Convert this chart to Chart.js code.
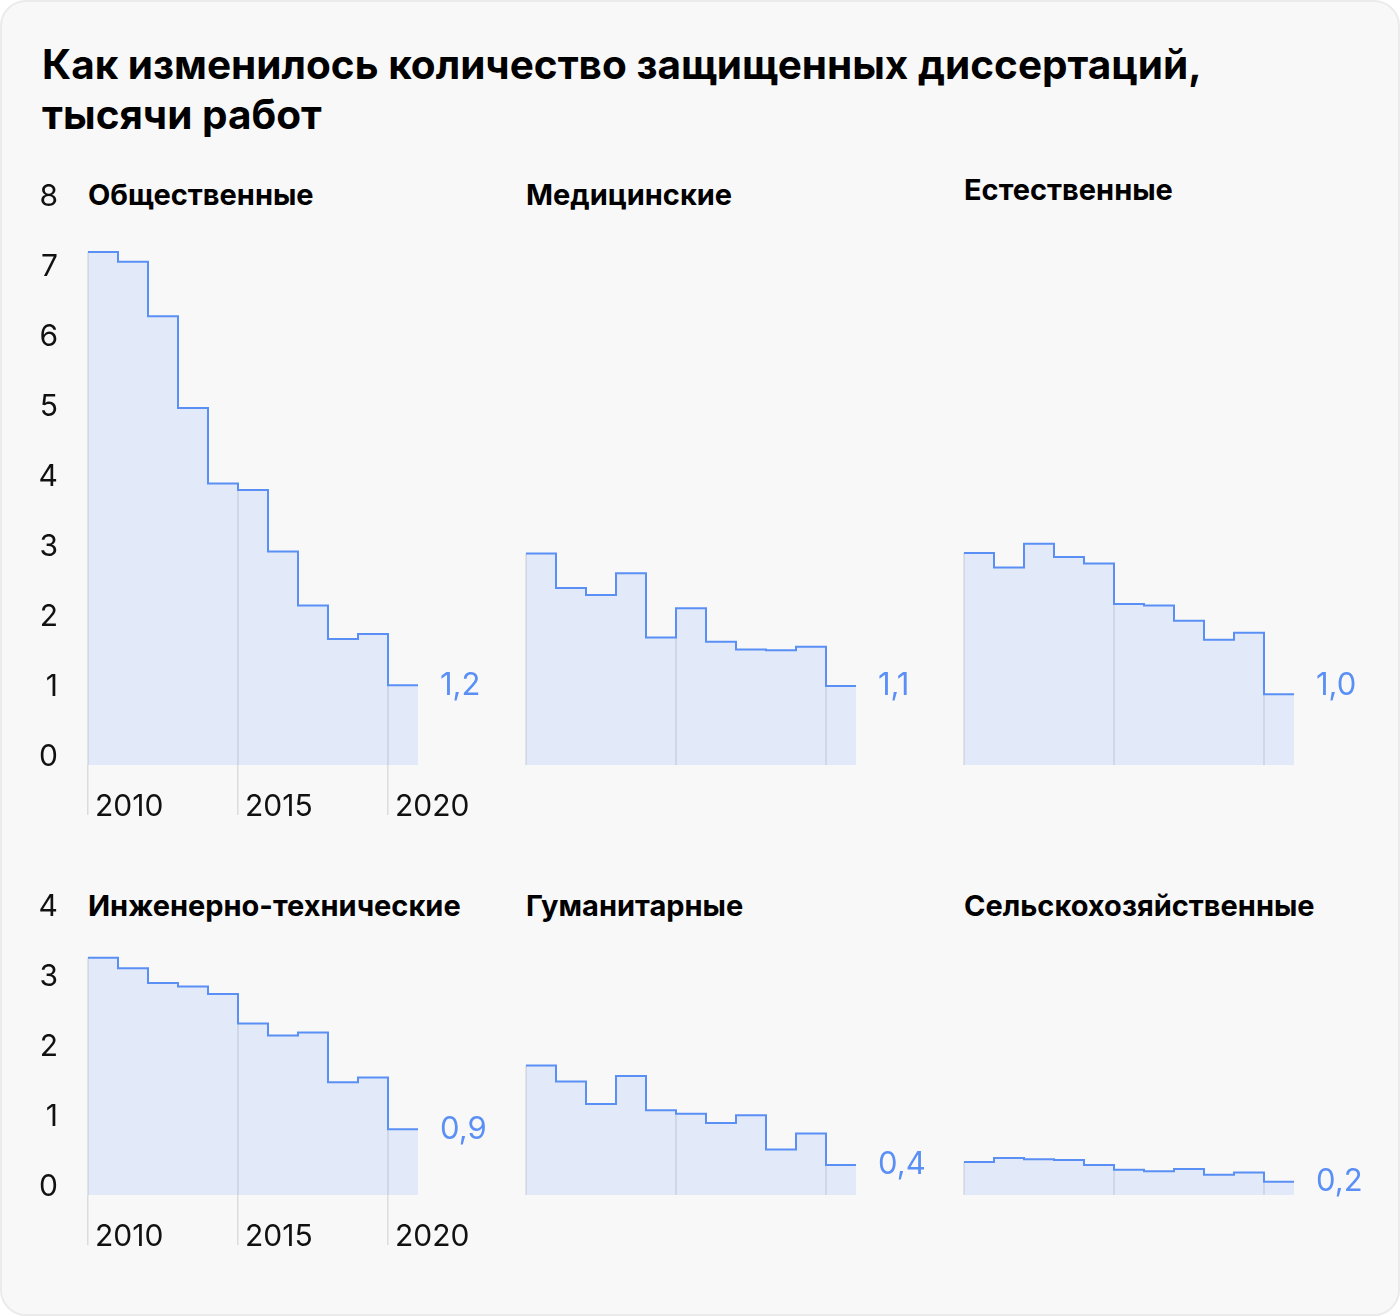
<!DOCTYPE html>
<html>
<head>
<meta charset="utf-8">
<script src="https://cdn.jsdelivr.net/npm/chart.js@4.4.0/dist/chart.umd.min.js"></script>
<style>
  body { margin: 0; background: #fff; font-family: Inter, sans-serif; }
  #card { position: absolute; left: 0; top: 0; width: 1400px; height: 1316px; box-sizing: border-box;
          background: #f8f8f8; border: 2px solid #ebebeb; border-radius: 26px; }
  #stage { position: absolute; left: 0; top: 0; width: 1400px; height: 1316px; }
  h1 { position: absolute; left: 42px; top: 40px; margin: 0; font-size: 40.5px; line-height: 50px;
       font-weight: 700; color: #000; white-space: nowrap; }
  .sub { position: absolute; font-size: 29px; font-weight: 700; line-height: 34px; color: #000; white-space: nowrap; }
  .box { position: absolute; }
</style>
</head>
<body>
<div id="card"></div>
<div id="stage">
  <h1>Как изменилось количество защищенных диссертаций,<br>тысячи работ</h1>
</div>
<script>
// years on the x axis
const years = [2010, 2011, 2012, 2013, 2014, 2015, 2016, 2017, 2018, 2019, 2020];
const tickYears = [2010, 2015, 2020];

// thousands of defended dissertations
const social       = [7.33, 7.19, 6.41, 5.10, 4.02, 3.93, 3.05, 2.28, 1.80, 1.87, 1.14];
const medical      = [3.02, 2.53, 2.43, 2.74, 1.82, 2.24, 1.76, 1.65, 1.64, 1.69, 1.13];
const natural      = [3.03, 2.82, 3.16, 2.97, 2.88, 2.30, 2.28, 2.06, 1.79, 1.89, 1.01];
const engineering  = [3.39, 3.24, 3.03, 2.98, 2.87, 2.45, 2.28, 2.32, 1.61, 1.68, 0.94];
const humanities   = [1.85, 1.62, 1.30, 1.70, 1.21, 1.16, 1.03, 1.14, 0.65, 0.88, 0.43];
const agricultural = [0.47, 0.53, 0.51, 0.50, 0.43, 0.36, 0.34, 0.37, 0.29, 0.32, 0.19];

const panelNames = ['Общественные', 'Медицинские', 'Естественные',
                    'Инженерно-технические', 'Гуманитарные', 'Сельскохозяйственные'];
const endLabels = ['1,2', '1,1', '1,0', '0,9', '0,4', '0,2'];
const series = [social, medical, natural, engineering, humanities, agricultural];

const BLUE = '#5a8ff5';
const GRID = 'rgba(0,0,0,0.11)';
const colLeft = [88, 526, 964];
const rowTop = [205, 915];
const rowMax = [8, 4];
const UNIT = 70, PLOT_W = 330, AXIS_W = 68, PAD_TOP = 30, PAD_RIGHT = 100, AXIS_H = 60;

// writes the last value to the right of each series
const endLabelPlugin = {
  id: 'endLabel',
  afterDatasetsDraw(chart, args, opts) {
    const ds = chart.data.datasets[0].data;
    const last = ds[ds.length - 1];
    const x = chart.scales.x.getPixelForValue(last.x) + 22;
    const y = chart.scales.y.getPixelForValue(last.y) + (opts.dy || 0);
    const ctx = chart.ctx;
    ctx.save();
    ctx.font = '400 31px Inter, sans-serif';
    ctx.fillStyle = BLUE;
    ctx.textAlign = 'left';
    ctx.textBaseline = 'middle';
    ctx.fillText(opts.text, x, y);
    ctx.restore();
  }
};

// vertical year lines, only inside the filled area
const stepGridPlugin = {
  id: 'stepGrid',
  beforeDatasetsDraw(chart) {
    const xs = chart.scales.x, ys = chart.scales.y;
    const pts = chart.data.datasets[0].data;
    const ctx = chart.ctx;
    ctx.save();
    ctx.strokeStyle = GRID;
    ctx.lineWidth = 1.5;
    tickYears.forEach(yr => {
      const p = pts.find(d => d.x === yr);
      const x = xs.getPixelForValue(yr);
      ctx.beginPath();
      ctx.moveTo(x, ys.getPixelForValue(p.y));
      ctx.lineTo(x, ys.bottom);
      ctx.stroke();
    });
    ctx.restore();
  }
};

const stage = document.getElementById('stage');

function makeConfig(points, max, first, label, dy) {
  return {
    type: 'line',
    data: {
      datasets: [{
        data: points,
        stepped: 'before',
        borderColor: BLUE,
        borderWidth: 2,
        backgroundColor: 'rgba(90,143,245,0.14)',
        fill: 'origin',
        pointRadius: 0
      }]
    },
    options: {
      responsive: false,
      maintainAspectRatio: false,
      animation: false,
      layout: { padding: { top: PAD_TOP, right: PAD_RIGHT, left: 0, bottom: 0 } },
      plugins: {
        legend: { display: false },
        tooltip: { enabled: false },
        endLabel: { text: label, dy: dy }
      },
      scales: {
        x: {
          type: 'linear',
          min: years[0],
          max: years[years.length - 1] + 1,
          afterBuildTicks: scale => { scale.ticks = tickYears.map(v => ({ value: v })); },
          afterFit: scale => { scale.height = AXIS_H; },
          border: { display: false },
          grid: {
            color: GRID,
            lineWidth: 1.5,
            drawOnChartArea: false,
            drawTicks: first,
            tickLength: first ? 50 : 0
          },
          ticks: {
            display: first,
            autoSkip: false,
            maxRotation: 0,
            align: 'start',
            labelOffset: 7,
            padding: -26,
            color: '#111',
            font: { family: 'Inter', size: 30 },
            callback: v => String(v)
          }
        },
        y: {
          min: 0,
          max: max,
          afterFit: scale => { scale.width = AXIS_W; },
          border: { display: false },
          grid: { display: false },
          ticks: {
            display: first,
            stepSize: 1,
            padding: 22,
            labelOffset: -8,
            color: '#111',
            font: { family: 'Inter', size: 30 }
          }
        }
      }
    },
    plugins: [stepGridPlugin, endLabelPlugin]
  };
}

series.forEach((values, i) => {
  const col = i % 3, row = Math.floor(i / 3);
  const first = col === 0;
  const left = colLeft[col], top = rowTop[row], max = rowMax[row];
  const dy = i === 2 ? -9 : 0;

  const sub = document.createElement('div');
  sub.className = 'sub';
  sub.textContent = panelNames[i];
  sub.style.left = left + 'px';
  sub.style.top = (row === 0 ? 178 : 889) - (i === 2 ? 5 : 0) + 'px';
  stage.appendChild(sub);

  const box = document.createElement('div');
  box.className = 'box';
  const canvas = document.createElement('canvas');
  box.appendChild(canvas);
  stage.appendChild(box);

  // step closes at the end of the last year
  const points = years.map((y, k) => ({ x: y, y: values[k] }));
  points.push({ x: years[years.length - 1] + 1, y: values[values.length - 1] });

  // first pass measures the layout, second pass gets the plot area to the wanted size
  let w = AXIS_W + PLOT_W + PAD_RIGHT;
  let h = PAD_TOP + max * UNIT + AXIS_H;
  canvas.width = w;
  canvas.height = h;
  let chart = new Chart(canvas, makeConfig(points, max, first, endLabels[i], dy));
  const a = chart.chartArea;
  w += PLOT_W - (a.right - a.left);
  h += max * UNIT - (a.bottom - a.top);
  chart.destroy();
  canvas.width = w;
  canvas.height = h;
  canvas.style.width = w + 'px';
  canvas.style.height = h + 'px';
  chart = new Chart(canvas, makeConfig(points, max, first, endLabels[i], dy));
  box.style.left = (left - chart.chartArea.left) + 'px';
  box.style.top = (top - chart.chartArea.top) + 'px';
});
</script>
</body>
</html>
